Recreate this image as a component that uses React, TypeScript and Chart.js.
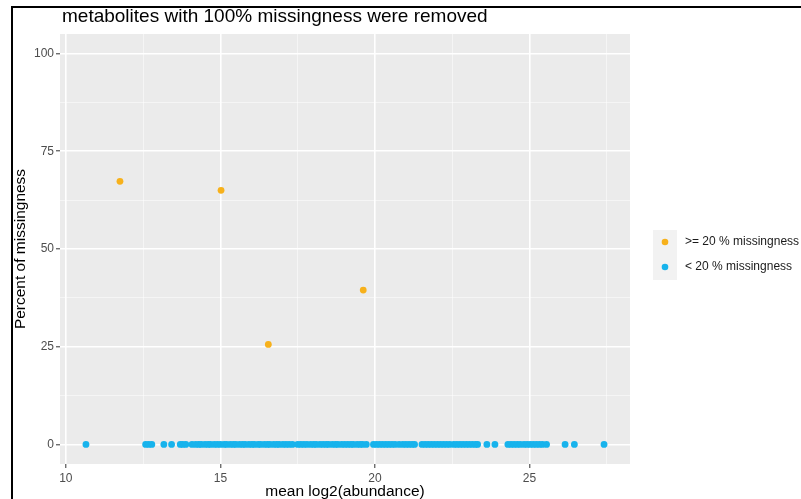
import React, { useEffect, useRef } from "react";
import { Chart, registerables } from "chart.js";

Chart.register(...registerables);

const TITLE = "metabolites with 100% missingness were removed";
const X_TITLE = "mean log2(abundance)";
const Y_TITLE = "Percent of missingness";
const LEGEND_LABELS = [">= 20 % missingness", "< 20 % missingness"];
const COLORS = ["#F7B11B", "#17B3EC"];

// >= 20 % missingness
const highX = [11.75, 15.02, 16.55, 19.62];
const highY = [67.3, 65.0, 25.6, 39.5];

// < 20 % missingness (all at 0 %)
const lowX = [
  10.65,
  12.58, 12.68, 12.78,
  13.17, 13.42,
  13.7, 13.78, 13.88,
  14.08, 14.2, 14.3, 14.38, 14.5, 14.6, 14.68, 14.8, 14.9, 15.0, 15.12, 15.2, 15.32, 15.42,
  15.5, 15.62, 15.72, 15.8, 15.92, 16.02, 16.1, 16.22, 16.3, 16.42, 16.52, 16.6, 16.72,
  16.82, 16.9, 17.02, 17.12, 17.22, 17.33,
  17.5, 17.6, 17.7, 17.8, 17.92, 18.02, 18.1, 18.22, 18.32, 18.42, 18.5, 18.62, 18.72,
  18.8, 18.92, 19.02, 19.12, 19.22, 19.3, 19.42, 19.52, 19.6, 19.72,
  19.95, 20.05, 20.15, 20.25, 20.35, 20.45, 20.55, 20.65, 20.78, 20.9, 21.0, 21.1, 21.2, 21.28,
  21.52, 21.62, 21.72, 21.82, 21.92, 22.02, 22.12, 22.22, 22.32, 22.42, 22.55, 22.65, 22.75,
  22.85, 22.95, 23.05, 23.15, 23.25, 23.32,
  23.62, 23.88,
  24.3, 24.4, 24.5, 24.6, 24.7, 24.82, 24.92, 25.02, 25.12, 25.22, 25.32, 25.42, 25.55,
  26.15, 26.45,
  27.41,
];
const lowY = lowX.map(() => 0);

const X_MIN = 9.81;
const X_MAX = 28.25;
const Y_MIN = -5;
const Y_MAX = 105;
const X_TICKS = [10, 12.5, 15, 17.5, 20, 22.5, 25, 27.5];
const Y_TICKS = [0, 12.5, 25, 37.5, 50, 62.5, 75, 87.5, 100];
const X_MAJOR = [10, 15, 20, 25];
const Y_MAJOR = [0, 25, 50, 75, 100];

const FONT = "'Liberation Sans', Arial, Helvetica, sans-serif";

const decorPlugin = {
  id: "decor",
  beforeDraw(chart: any) {
    const { ctx, chartArea: a } = chart;
    ctx.save();
    ctx.fillStyle = "#EBEBEB";
    ctx.fillRect(a.left, a.top, a.right - a.left, a.bottom - a.top);
    ctx.restore();
  },
  afterDraw(chart: any) {
    const { ctx } = chart;
    ctx.save();
    // title
    ctx.fillStyle = "#000000";
    ctx.font = `19px ${FONT}`;
    ctx.textBaseline = "middle";
    ctx.textAlign = "left";
    ctx.fillText(TITLE, 62, 17);
    // legend keys
    ctx.fillStyle = "#F2F2F2";
    ctx.fillRect(653, 230, 24, 50);
    const ys = [242, 267];
    LEGEND_LABELS.forEach((lab, i) => {
      ctx.fillStyle = COLORS[i];
      ctx.beginPath();
      ctx.arc(665, ys[i], 3.3, 0, Math.PI * 2);
      ctx.fill();
      ctx.fillStyle = "#1A1A1A";
      ctx.font = `12px ${FONT}`;
      ctx.fillText(lab, 685, ys[i]);
    });
    // frame
    ctx.strokeStyle = "#000000";
    ctx.lineWidth = 2;
    ctx.beginPath();
    ctx.moveTo(12, 499);
    ctx.lineTo(12, 7);
    ctx.lineTo(801, 7);
    ctx.stroke();
    ctx.restore();
  },
};

export default function App() {
  const ref = useRef<HTMLCanvasElement | null>(null);
  useEffect(() => {
    if (!ref.current) return;
    Chart.defaults.font.family = FONT;
    const chart = new Chart(ref.current, {
      type: "scatter",
      data: {
        datasets: [
          {
            label: LEGEND_LABELS[1],
            data: lowX.map((x, i) => ({ x, y: lowY[i] })),
            backgroundColor: COLORS[1],
            pointRadius: 3.4,
            borderWidth: 0,
          },
          {
            label: LEGEND_LABELS[0],
            data: highX.map((x, i) => ({ x, y: highY[i] })),
            backgroundColor: COLORS[0],
            pointRadius: 3.4,
            borderWidth: 0,
          },
        ],
      },
      options: {
        animation: false,
        responsive: false,
        devicePixelRatio: 1,
        layout: { padding: { left: 0, top: 34, right: 171, bottom: 0 } },
        plugins: { legend: { display: false }, tooltip: { enabled: false } },
        scales: {
          x: {
            type: "linear",
            min: X_MIN,
            max: X_MAX,
            afterBuildTicks: (s: any) => {
              s.ticks = X_TICKS.map((v) => ({ value: v }));
            },
            afterFit: (s: any) => {
              s.height = 35;
            },
            border: { display: false },
            grid: {
              color: (c: any) => (X_MAJOR.includes(c.tick?.value) ? "#FFFFFF" : "rgba(255,255,255,0.75)"),
              lineWidth: (c: any) => (X_MAJOR.includes(c.tick?.value) ? 1.6 : 0.7),
              tickColor: (c: any) => (X_MAJOR.includes(c.tick?.value) ? "#333333" : "rgba(0,0,0,0)"),
              tickLength: 4,
              tickWidth: 1,
            },
            ticks: {
              autoSkip: false,
              maxRotation: 0,
              padding: 3,
              color: "#4D4D4D",
              font: { size: 12 },
              callback: (v: any) => (X_MAJOR.includes(Number(v)) ? String(v) : ""),
            },
            title: {
              display: true,
              text: X_TITLE,
              color: "#000000",
              font: { size: 15.5, lineHeight: 1 },
              padding: { top: 0, bottom: 0 },
            },
          },
          y: {
            type: "linear",
            min: Y_MIN,
            max: Y_MAX,
            afterBuildTicks: (s: any) => {
              s.ticks = Y_TICKS.map((v) => ({ value: v }));
            },
            afterFit: (s: any) => {
              s.width = 60;
            },
            border: { display: false },
            grid: {
              color: (c: any) => (Y_MAJOR.includes(c.tick?.value) ? "#FFFFFF" : "rgba(255,255,255,0.75)"),
              lineWidth: (c: any) => (Y_MAJOR.includes(c.tick?.value) ? 1.6 : 0.7),
              tickColor: (c: any) => (Y_MAJOR.includes(c.tick?.value) ? "#333333" : "rgba(0,0,0,0)"),
              tickLength: 4,
              tickWidth: 1,
            },
            ticks: {
              autoSkip: false,
              padding: 2,
              color: "#4D4D4D",
              font: { size: 12 },
              callback: (v: any) => (Y_MAJOR.includes(Number(v)) ? String(v) : ""),
            },
            title: {
              display: true,
              text: Y_TITLE,
              color: "#000000",
              font: { size: 15.5, lineHeight: 1 },
              padding: { top: 13, bottom: 0 },
            },
          },
        },
      },
      plugins: [decorPlugin],
    } as any);
    return () => chart.destroy();
  }, []);
  return (
    <div style={{ position: "fixed", left: 0, top: 0, width: 801, height: 499, background: "#FFFFFF" }}>
      <canvas ref={ref} width={801} height={499} style={{ width: 801, height: 499, display: "block" }} />
    </div>
  );
}
